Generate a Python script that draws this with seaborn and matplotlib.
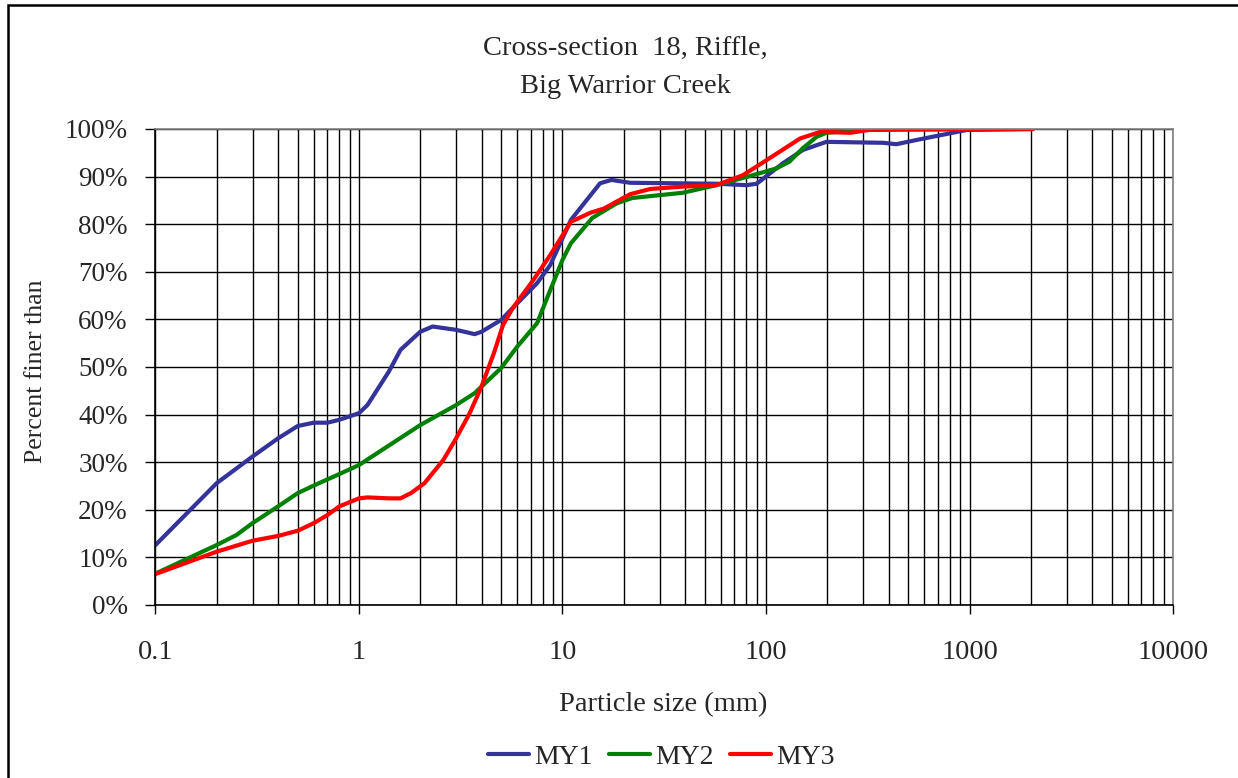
import numpy as np
import pandas as pd
import matplotlib
matplotlib.use("Agg")
import matplotlib.pyplot as plt
import seaborn as sns
from matplotlib.ticker import FixedLocator, FuncFormatter, LogLocator, NullFormatter
from matplotlib.patches import Rectangle

# Data (particle size in mm, percent finer than)
my1_size = [0.1, 0.2, 0.3, 0.4, 0.5, 0.6, 0.7, 0.8, 1.0, 1.1, 1.4, 1.6, 2.0, 2.3, 3.0, 3.7,
            4.0, 5.0, 6.0, 7.5, 8.7, 11, 15.3, 17.4, 21.5, 57, 80, 90, 121, 152, 198, 376,
            437, 550, 970, 2048]
my1_pct = [12.6, 25.6, 31.2, 35.0, 37.6, 38.3, 38.3, 38.9, 40.3, 42.0, 49.0, 53.6, 57.4, 58.5,
           57.8, 56.9, 57.4, 59.9, 63.4, 67.6, 71.4, 80.9, 88.6, 89.3, 88.7, 88.5, 88.2, 88.5,
           92.8, 95.6, 97.3, 97.1, 96.8, 97.7, 99.8, 100.0]

my2_size = [0.1, 0.2, 0.25, 0.3, 0.4, 0.5, 0.6, 0.8, 1.0, 2.0, 3.0, 3.7, 5.0, 6.0, 7.5, 8.4,
            10, 11, 14, 18.5, 22, 30, 39, 57, 83, 112, 130, 152, 178, 198, 260, 330, 2048]
my2_pct = [6.6, 12.6, 14.7, 17.2, 20.7, 23.5, 25.1, 27.5, 29.4, 37.8, 42.0, 44.5, 49.8, 54.3,
           59.2, 64.5, 72.5, 76.0, 81.3, 84.4, 85.5, 86.1, 86.6, 88.2, 90.1, 91.7, 93.1, 96.0,
           98.4, 99.2, 99.6, 100.0, 100.0]

my3_size = [0.1, 0.2, 0.3, 0.4, 0.5, 0.6, 0.7, 0.8, 1.0, 1.1, 1.4, 1.6, 1.8, 2.1, 2.6, 3.0,
            3.5, 4.0, 4.6, 5.1, 5.7, 7.2, 8.7, 11, 13.7, 16, 21.5, 27, 39, 57, 77, 101, 147,
            185, 260, 320, 2048]
my3_pct = [6.5, 11.2, 13.5, 14.5, 15.6, 17.2, 18.9, 20.7, 22.4, 22.6, 22.4, 22.4, 23.5, 25.6,
           30.5, 35.0, 40.3, 45.9, 52.9, 58.8, 62.4, 68.3, 73.5, 80.5, 82.4, 83.3, 86.3, 87.4,
           87.9, 88.2, 90.3, 93.5, 98.0, 99.4, 99.2, 99.8, 100.0]

series_names = ["MY1", "MY2", "MY3"]
series_colors = ["#333399", "#008000", "#FF0000"]
y_ticks = list(range(0, 101, 10))
x_ticks = [0.1, 1, 10, 100, 1000, 10000]
x_tick_labels = ["0.1", "1", "10", "100", "1000", "10000"]

df = pd.concat([
    pd.DataFrame({"size": my1_size, "pct": my1_pct, "series": "MY1"}),
    pd.DataFrame({"size": my2_size, "pct": my2_pct, "series": "MY2"}),
    pd.DataFrame({"size": my3_size, "pct": my3_pct, "series": "MY3"}),
], ignore_index=True)

sns.set_style("white")
plt.rcParams["font.family"] = ["Liberation Serif", "DejaVu Serif"]

fig = plt.figure(figsize=(12.38, 7.78), dpi=100)
ax = fig.add_axes([0.1256, 0.2224, 0.8219, 0.6118])

sns.lineplot(data=df, x="size", y="pct", hue="series", hue_order=series_names,
             palette=dict(zip(series_names, series_colors)), sort=False,
             linewidth=3, ax=ax, legend=True)
for line in ax.get_lines():
    line.set_solid_joinstyle("round")
    line.set_solid_capstyle("round")

ax.set_xscale("log")
ax.set_xlim(0.1, 10000)
ax.set_ylim(0, 100)

ax.xaxis.set_major_locator(FixedLocator(x_ticks))
ax.set_xticklabels(x_tick_labels)
ax.xaxis.set_minor_locator(LogLocator(base=10, subs=np.arange(2, 10)))
ax.xaxis.set_minor_formatter(NullFormatter())
ax.yaxis.set_major_locator(FixedLocator(y_ticks))
ax.yaxis.set_major_formatter(FuncFormatter(lambda v, p: f"{v:.0f}%"))

ax.grid(which="major", axis="both", color="black", linewidth=1)
ax.grid(which="minor", axis="x", color="black", linewidth=1)
ax.set_axisbelow(True)

ax.tick_params(axis="x", which="major", direction="out", length=6.5, width=1,
               color="black", labelsize=20.5, pad=19, bottom=True)
ax.tick_params(axis="x", which="minor", length=0)
ax.tick_params(axis="y", which="major", direction="out", length=7, width=1,
               color="black", labelsize=19.5, pad=13, left=True)

for s in ax.spines.values():
    s.set_color("#808080")
    s.set_linewidth(1.2)
ax.spines["left"].set_color("black")
ax.spines["bottom"].set_color("black")

ax.set_xlabel("Particle size (mm)", fontsize=20.5)
ax.xaxis.label.set_va("center")
ax.xaxis.set_label_coords(0.4985, -0.210)
ax.set_ylabel("Percent finer than", fontsize=18.5)
ax.yaxis.label.set_va("center")
ax.yaxis.set_label_coords(-0.1175, 0.49)

fig.text(0.5048, 0.9383, "Cross-section  18, Riffle,", ha="center", va="center", fontsize=20.5)
fig.text(0.5048, 0.8886, "Big Warrior Creek", ha="center", va="center", fontsize=20.5)

leg = ax.legend(loc="center", bbox_to_anchor=(0.5343, 0.027), bbox_transform=fig.transFigure,
                ncol=3, frameon=False, fontsize=20, handlelength=1.45, handletextpad=0.2,
                columnspacing=0.6, borderpad=0)
for line in leg.get_lines():
    line.set_linewidth(3)

fig.patches.append(Rectangle((0.0065, -0.05), 1.1, 1.0436, transform=fig.transFigure,
                             fill=False, edgecolor="black", linewidth=1.8, clip_on=False))

fig.savefig("out.png", dpi=100)
